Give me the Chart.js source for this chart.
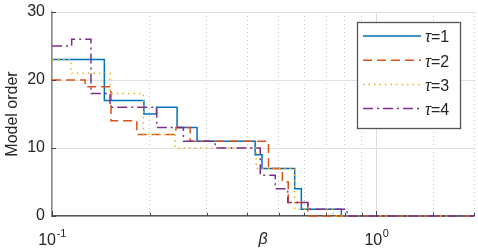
<!DOCTYPE html>
<html lang="en">
<head>
  <meta charset="UTF-8" />
  <title>Model order vs beta</title>
  <script src="https://cdn.jsdelivr.net/npm/chart.js"></script>
  <style>
    html, body { margin: 0; padding: 0; background: #fff; }
    #wrap { width: 478px; height: 250px; position: relative; }
  </style>
</head>
<body>
<div id="wrap"><canvas id="grafico"></canvas></div>

<script>
  // breakpoints (beta where each level starts) and model order per tau
  const beta1 = [0.1, 0.145, 0.192, 0.210, 0.243, 0.280, 0.423, 0.444, 0.560, 0.587, 0.780, 2];
  const order1 = [23, 17, 15, 16, 13, 11, 9, 7, 4, 1, 0, 0];

  const beta2 = [0.1, 0.1265, 0.152, 0.1826, 0.241, 0.2667, 0.465, 0.513, 0.535, 0.615, 2];
  const order2 = [20, 19, 14, 12, 13, 11, 7, 5, 2, 0, 0];

  const beta3 = [0.1, 0.1144, 0.151, 0.1913, 0.2397, 0.426, 0.5596, 0.7366, 2];
  const order3 = [23, 21, 18, 12, 10, 7, 1, 0, 0];

  const beta4 = [0.1, 0.115, 0.1319, 0.151, 0.2103, 0.2542, 0.3185, 0.4385, 0.4879, 0.5332, 0.6153, 0.8122, 2];
  const order4 = [25, 26, 18, 16, 13, 11, 10, 6, 4, 2, 1, 0, 0];

  const tauLabels = ['1', '2', '3', '4'];
  const yTicks = [0, 10, 20, 30];

  const cores = ['#0072BD', '#D95319', '#EDB120', '#7E2F8E'];
  const tracos = [[], [9, 5], [1.5, 4], [10, 4, 2, 4]];
  const fonte = "'Liberation Sans', Arial, sans-serif";

  const pares = (xs, ys) => xs.map((x, i) => ({ x: x, y: ys[i] }));
  const series = [pares(beta1, order1), pares(beta2, order2), pares(beta3, order3), pares(beta4, order4)];

  const ehDecada = v => Math.abs(Math.log10(v) - Math.round(Math.log10(v))) < 1e-6;

  // x labels with superscript, inward ticks, legend inside the axes
  const extras = {
    id: 'extras',
    afterDraw(chart) {
      const ctx = chart.ctx;
      const xs = chart.scales.x, ys = chart.scales.y;
      const area = chart.chartArea;
      ctx.save();
      ctx.strokeStyle = '#444';
      ctx.lineWidth = 1;
      xs.ticks.forEach(t => {
        const px = Math.round(xs.getPixelForValue(t.value)) + 0.5;
        const len = ehDecada(t.value) ? 5 : 3;
        ctx.beginPath();
        ctx.moveTo(px, area.bottom);
        ctx.lineTo(px, area.bottom - len);
        ctx.stroke();
      });
      yTicks.forEach(v => {
        const py = Math.round(ys.getPixelForValue(v)) + 0.5;
        ctx.beginPath();
        ctx.moveTo(area.left, py);
        ctx.lineTo(area.left + 4, py);
        ctx.stroke();
      });

      // decade labels 10^n
      ctx.fillStyle = '#262626';
      ctx.textBaseline = 'alphabetic';
      xs.ticks.filter(t => ehDecada(t.value)).forEach(t => {
        const px = xs.getPixelForValue(t.value);
        const expo = String(Math.round(Math.log10(t.value)));
        ctx.font = '16px ' + fonte;
        const wb = ctx.measureText('10').width;
        ctx.font = '11px ' + fonte;
        const we = ctx.measureText(expo).width;
        const x0 = px - (wb + we) / 2;
        ctx.font = '16px ' + fonte;
        ctx.fillText('10', x0, area.bottom + 29);
        ctx.font = '11px ' + fonte;
        ctx.fillText(expo, x0 + wb + 0.5, area.bottom + 20.5);
      });

      // legend box
      const bx = 357, by = 22, bw = 103, bh = 106;
      ctx.fillStyle = '#fff';
      ctx.fillRect(bx, by, bw, bh);
      ctx.strokeStyle = '#555';
      ctx.lineWidth = 1.3;
      ctx.strokeRect(bx + 0.5, by + 0.5, bw, bh);
      chart.data.datasets.forEach((ds, i) => {
        const ly = by + 14 + i * 24.2;
        ctx.strokeStyle = ds.borderColor;
        ctx.lineWidth = 1.5;
        ctx.setLineDash(ds.borderDash);
        ctx.beginPath();
        ctx.moveTo(bx + 6, ly);
        ctx.lineTo(bx + 64, ly);
        ctx.stroke();
        ctx.setLineDash([]);
        ctx.fillStyle = '#262626';
        ctx.textBaseline = 'middle';
        ctx.font = 'italic 16px ' + fonte;
        ctx.fillText('\u03C4', bx + 68, ly + 2);
        const w = ctx.measureText('\u03C4').width;
        ctx.font = '16px ' + fonte;
        ctx.fillText('=' + tauLabels[i], bx + 68 + w, ly + 2);
      });
      ctx.restore();
    }
  };

  const semPadding = s => { s.paddingTop = 0; s.paddingBottom = 0; s.paddingLeft = 0; s.paddingRight = 0; };

  new Chart(document.getElementById('grafico'), {
    type: 'line',
    data: {
      datasets: series.map((d, i) => ({
        label: '\u03C4=' + tauLabels[i],
        data: d,
        borderColor: cores[i],
        borderDash: tracos[i],
        borderWidth: 1.5,
        pointRadius: 0,
        stepped: 'before',
        fill: false,
        clip: false,
        order: 4 - i
      }))
    },
    options: {
      responsive: true,
      maintainAspectRatio: false,
      animation: false,
      layout: { padding: { top: 12, right: 4, left: 0, bottom: 0 } },
      plugins: {
        legend: { display: false },
        tooltip: { enabled: false }
      },
      scales: {
        x: {
          type: 'logarithmic',
          min: 0.1,
          max: 2,
          afterFit: s => { s.height = 34; semPadding(s); },
          border: {
            color: '#555',
            width: 1.5,
            dash: c => (c.tick && ehDecada(c.tick.value)) ? [] : [1, 3]
          },
          grid: {
            drawTicks: false,
            color: c => (c.tick && ehDecada(c.tick.value)) ? '#dcdcdc' : '#c4c4c4',
            lineWidth: 1
          },
          ticks: {
            autoSkip: false,
            maxRotation: 0,
            padding: 0,
            callback: () => ''
          },
          title: {
            display: true,
            text: '\u03B2',
            color: '#262626',
            font: { family: fonte, size: 16, style: 'italic' },
            padding: { top: 0, bottom: 1 }
          }
        },
        y: {
          min: 0,
          max: 30,
          afterFit: s => { s.width = 52; semPadding(s); },
          border: { color: '#888', width: 1.5 },
          grid: { drawTicks: false, color: '#e0e0e0', lineWidth: 1 },
          ticks: {
            stepSize: 10,
            padding: 7,
            color: '#262626',
            font: { family: fonte, size: 16 }
          },
          title: {
            display: true,
            text: 'Model order',
            color: '#262626',
            font: { family: fonte, size: 16 },
            padding: { top: 3, bottom: 0 }
          }
        }
      }
    },
    plugins: [extras]
  });
</script>
</body>
</html>
